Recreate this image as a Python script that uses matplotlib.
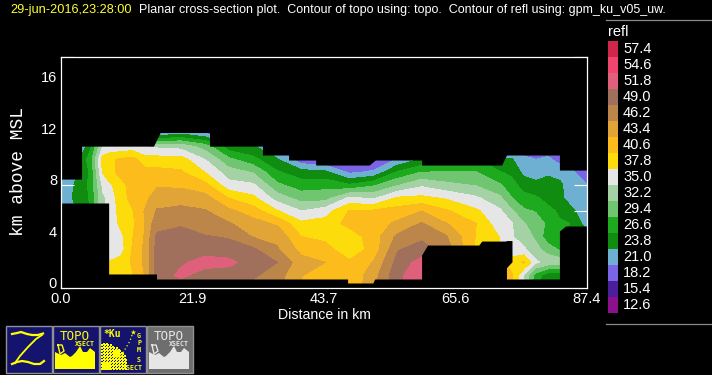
import numpy as np
import matplotlib
matplotlib.use("Agg")
import matplotlib.pyplot as plt
from matplotlib.colors import ListedColormap
from matplotlib.patches import Rectangle

plt.rcParams['font.family'] = ['Liberation Sans', 'DejaVu Sans']

# ---------- data ----------
distance_km = [0, 3.5, 5, 7, 8, 10, 12, 14, 16, 20, 24, 28, 32, 36, 40, 44, 48, 52, 56, 60,
               64, 69, 73, 75, 77, 79, 81, 83, 85, 87.4]
height_km = [0, 1, 2, 3, 4, 5, 6, 7, 8, 9, 10, 11, 12]
refl_by_column = [
    [21, 21, 21, 21, 21, 21, 21.5, 22.5, 21.8, 17, 15, 15, 15],
    [24, 24, 24, 24, 24, 24, 24.5, 24.8, 25, 25, 25, 21.5, 15],
    [27, 27, 27, 27, 27, 27, 27, 27, 27.5, 27, 28, 26, 15],
    [34, 34, 34, 34, 34, 34, 34.5, 34.5, 35.5, 38, 39, 35, 15],
    [38, 38.5, 38, 35.5, 35.5, 35.5, 35.5, 35.5, 37, 39.5, 40, 35.5, 15],
    [38, 38.5, 39, 36.5, 37, 38.5, 39, 39.5, 39.5, 41.5, 41, 35.8, 16],
    [40, 40.5, 41, 41, 40.5, 40, 40.5, 41.5, 42, 42.5, 41.5, 36, 17],
    [43, 43.5, 44, 44, 43.6, 43.6, 43.6, 42.5, 42, 41.5, 39, 35, 18],
    [49.5, 50, 50, 50, 49.5, 48, 46.4, 45, 43, 41.5, 39, 34.5, 21.5],
    [50, 52.5, 51.3, 50.5, 50, 48.7, 47, 45, 42.9, 41, 39, 34, 23.5],
    [50, 50.5, 53, 50.5, 49.2, 47.5, 46.4, 44.5, 41.5, 37.8, 35, 31, 21.5],
    [50, 50.5, 52.5, 50.3, 48.7, 46.5, 44, 40.5, 36, 33.5, 30, 25, 15],
    [48, 49.5, 50.5, 49.5, 46, 44.5, 42, 38.5, 35.5, 32, 27.5, 24, 15],
    [47, 47.5, 49, 46.5, 45.5, 43, 38, 33.7, 30, 27, 24, 22, 15],
    [43, 43.6, 44.5, 42.5, 40.6, 38.5, 35, 31, 28, 25, 19, 15, 15],
    [41, 41.5, 43.4, 41.5, 40, 39, 36.5, 31, 28.5, 24.5, 18, 15, 15],
    [41, 41, 41, 39, 39, 41.5, 40.8, 35.5, 27, 20.5, 16, 15, 15],
    [45.5, 45, 43.6, 41.5, 42, 42, 41, 34.5, 29, 21.5, 18, 15, 15],
    [51, 51, 50, 48.8, 46.8, 44, 41.8, 38.2, 32, 27, 21.2, 15, 15],
    [54, 54, 53, 50, 48.5, 46.5, 43.3, 38.5, 34.5, 29.5, 24, 15, 15],
    [48, 48, 48, 48, 46.5, 43.6, 41, 37.5, 33, 29.5, 25, 15, 15],
    [40, 40, 40, 40, 40.5, 40.7, 38.3, 35.5, 32, 29.5, 27, 15, 15],
    [44, 44, 42, 38, 37.7, 36, 35.5, 32.8, 29.8, 26.8, 24, 15, 15],
    [41, 41, 39, 36, 35.2, 35.2, 32.5, 29.5, 27.5, 26, 24, 20, 15],
    [34, 35, 41, 35.5, 33.5, 32.5, 29.8, 27.5, 25.5, 23, 21.6, 19.5, 15],
    [27, 28, 35.5, 33, 31.7, 30.5, 29.2, 27, 24.5, 22.5, 21, 17, 15],
    [25, 25, 34, 31, 27.5, 29, 27.5, 25.5, 24.5, 23.5, 21.5, 19.5, 15],
    [25, 25, 34, 29, 26.5, 27, 26, 24.5, 24.5, 22.5, 20, 15, 15],
    [25, 25, 25, 25, 25, 26.5, 24.5, 22, 21.5, 21.5, 19, 15, 15],
    [25, 25, 25, 25, 25, 22.5, 21.5, 21.2, 21.3, 19, 15, 15, 15],
]
# no-data limits of the section
top_x = [0, 3.5, 3.5, 15.45, 16.6, 24.76, 24.76, 33.55, 33.55, 37.9, 37.9, 42.4, 42.4, 51.3,
         52.3, 60, 60, 73.3, 74.1, 82.9, 82.9, 87.4]
top_y = [8.47, 8.47, 11.03, 11.03, 12.13, 12.13, 11.03, 11.03, 10.34, 10.34, 9.95, 9.95, 9.56,
         9.56, 9.95, 9.95, 9.56, 9.56, 10.34, 10.34, 9.17, 9.17]
bottom_x = [0, 8, 8, 15.95, 15.95, 47.7, 47.7, 51.9, 52.2, 60, 60, 61, 69.5, 70, 74.1, 74.1,
            82.9, 82.9, 83.9, 87.4]
bottom_y = [6.61, 6.61, 1.09, 1.09, 0.7, 0.7, 0.39, 0.39, 0.7, 0.7, 2.57, 3.34, 3.34, 3.65,
            3.65, 0.7, 0.7, 4.43, 4.82, 4.82]
hole_x = [74.1, 75.1, 75.1, 74.1]
hole_y = [1.5, 2.0, 3.65, 3.65]

legend_values = [12.6, 15.4, 18.2, 21.0, 23.8, 26.6, 29.4, 32.2, 35.0, 37.8, 40.6, 43.4, 46.2,
                 49.0, 51.8, 54.6, 57.4]
legend_colors = ['#8C0F8C', '#4B1E9B', '#7B64E6', '#6EB0D2', '#108C10', '#1EAA1E', '#70C670',
                 '#A5D2A5', '#E6E6E6', '#FCDC0A', '#FCBD1C', '#E0A536', '#BC864A', '#A0705C',
                 '#DE607A', '#F0456E', '#D0264A']
x_tick_labels = ['0.0', '', '21.9', '', '43.7', '', '65.6', '', '87.4']
y_ticks = [0, 2, 4, 6, 8, 10, 12, 14, 16, 18]
y_tick_labels = ['0', '', '4', '', '8', '', '12', '', '16', '']

W, H = 712, 375
WHITE = '#FFFFFF'
fig = plt.figure(figsize=(W / 100, H / 100), dpi=100, facecolor='black')

# ---------- main panel ----------
L, R, T, B = 60.5, 586.5, 56.5, 288.0
ax = fig.add_axes([L / W, 1 - B / H, (R - L) / W, (B - T) / H], facecolor='black')
levels = legend_values + [60.2]
field = np.array(refl_by_column).T
ax.contourf(distance_km, height_km, field, levels=levels, colors=legend_colors,
            extend='neither', antialiased=False, zorder=1)
ax.fill_between(top_x, top_y, 18, color='black', lw=0, zorder=2)
ax.fill_between(bottom_x, 0, bottom_y, color='black', lw=0, zorder=2)
ax.fill(hole_x, hole_y, color='black', lw=0, zorder=2)
ax.set_xlim(0, 87.4)
ax.set_ylim(0, 18)
for s in ax.spines.values():
    s.set_color(WHITE)
    s.set_linewidth(0.9)
    s.set_zorder(5)
ax.set_xticks(np.linspace(0, 87.4, 9))
ax.set_xticklabels(x_tick_labels)
ax.set_yticks(y_ticks)
ax.set_yticklabels(y_tick_labels)
ax.tick_params(axis='x', direction='in', length=4.4, width=0.8, color=WHITE, top=True,
               labelcolor=WHITE, labelsize=10.5, pad=3.2)
ax.tick_params(axis='y', direction='in', length=9.4, width=0.8, color=WHITE, right=True,
               labelcolor=WHITE, labelsize=10.5, pad=2.5)
for t in ax.get_yticklabels():
    t.set_verticalalignment('baseline')
for t in ax.get_xticklabels() + ax.get_yticklabels():
    t.set_zorder(6)

# ---------- overlay in pixel coordinates for legend frame, captions, buttons ----------
ui = fig.add_axes([0, 0, 1, 1], facecolor='none', zorder=3)
ui.set_xlim(0, W)
ui.set_ylim(H, 0)
ui.axis('off')

ui.text(10, 9.5, '29-jun-2016,23:28:00', color='#FFFF33', fontsize=9.15, va='center', ha='left')
ui.text(139, 9.5, 'Planar cross-section plot.  Contour of topo using: topo.  Contour of refl using: gpm_ku_v05_uw.',
        color=WHITE, fontsize=9.0, va='center', ha='left')
ui.text(324, 315, 'Distance in km', color=WHITE, fontsize=10.2, va='center', ha='center')
ui.text(19, 171.5, 'km above MSL', color=WHITE, fontsize=13, family='Liberation Mono',
        rotation=90, va='center', ha='center')

ui.plot([606, 712], [19.5, 19.5], color='#8a8a8a', lw=0.9)
ui.plot([606, 712], [324, 324], color='#8a8a8a', lw=0.9)
ui.text(608, 32, 'refl', color=WHITE, fontsize=10.5, va='center', ha='left')

# ---------- legend swatches ----------
cax = fig.add_axes([608 / W, 1 - 313 / H, 10 / W, 272 / H], facecolor='black', zorder=2)
idx = np.arange(len(legend_values) + 1)
cax.pcolormesh([0, 1], idx, np.arange(len(legend_values)).reshape(-1, 1),
               cmap=ListedColormap(legend_colors), vmin=-0.5, vmax=len(legend_values) - 0.5)
cax.axis('off')
for i, v in enumerate(legend_values):
    ui.text(623, 313 - 16 * i - 8, f'{v:.1f}', color=WHITE, fontsize=10.5, va='center', ha='left')

# ---------- button icons ----------
NAVY = '#14146E'
YEL = '#FFFF00'
def tile(x0, bg):
    ui.add_patch(Rectangle((x0 + 0.5, 325.5), 46, 47, fc=bg, ec='#909090', lw=1))

tile(5, NAVY)
tile(52, NAVY)
tile(99, NAVY)
tile(146, '#6E6E6E')

# Z
ui.plot([12, 17, 21, 27, 32, 38, 43], [334, 333, 332, 334, 335, 335, 333.5], color=YEL, lw=1.6)
ui.plot([42, 36, 28, 20, 15], [335, 339, 347, 356, 363], color=YEL, lw=1.3)
ui.plot([12, 17, 22, 28, 34, 40, 44], [364, 362, 361, 362, 364, 364, 361], color=YEL, lw=1.6)

# topography icons
ridge_dx = np.array([3, 3, 9, 13, 18, 20, 24, 28, 31, 35, 38, 43, 43, 3])
ridge_y = np.array([369, 352, 355, 353, 357, 356, 352, 346, 352, 352, 348, 352, 369, 369])
for x0, col in [(52, YEL), (146, '#E6E6E6')]:
    ui.fill(x0 + ridge_dx, ridge_y, color=col, lw=0)
    ui.text(x0 + 23, 336, 'TOPO', color=col, fontsize=9, va='center', ha='center',
            family='DejaVu Sans Mono')
    ui.text(x0 + 33, 344.5, 'XSECT', color=col, fontsize=4.8, va='center', ha='center',
            family='DejaVu Sans Mono', fontweight='bold')
    ui.plot([x0 + 6, x0 + 10, x0 + 12, x0 + 8, x0 + 6], [345, 345, 351, 354, 345], color=col, lw=1)

# GPM icon
ui.text(112, 334, '*Ku', color=YEL, fontsize=7, va='center', ha='center', family='DejaVu Sans Mono',
        fontweight='bold')
for yy, s in zip([335.5, 343, 350.5, 359.5], 'GPMS'):
    ui.text(139, yy, s, color=YEL, fontsize=4.8, va='center', ha='center',
            family='DejaVu Sans Mono', fontweight='bold')
ui.text(133, 367.5, 'XSECT', color=YEL, fontsize=4.8, va='center', ha='center',
        family='DejaVu Sans Mono', fontweight='bold')
gx, gy = np.meshgrid(np.arange(102, 127, 1.5), np.arange(342, 370, 1.5))
keep = (((gx - 102) ** 2 + (gy - 370) ** 2 < 27 ** 2)
        & ((np.round((gx - 102) / 1.5) + np.round((gy - 342) / 1.5)) % 2 == 0))
ui.scatter(gx[keep], gy[keep], s=1.6, color=YEL, marker='s', lw=0)
ui.fill([102, 109, 111, 111, 102], [362, 362, 364, 370, 370], color=YEL, lw=0)
ui.fill([113, 117, 120, 120, 116, 113], [351, 349, 352, 357, 358, 355], color=YEL, lw=0)
ui.plot([121, 124, 127, 130, 133], [356, 351, 346, 341, 332], color=YEL, lw=0.9, ls=(0, (1, 2)))
ui.scatter([133], [332], s=16, color=YEL, marker='*', lw=0)

fig.savefig('out.png', dpi=100, facecolor='black')
